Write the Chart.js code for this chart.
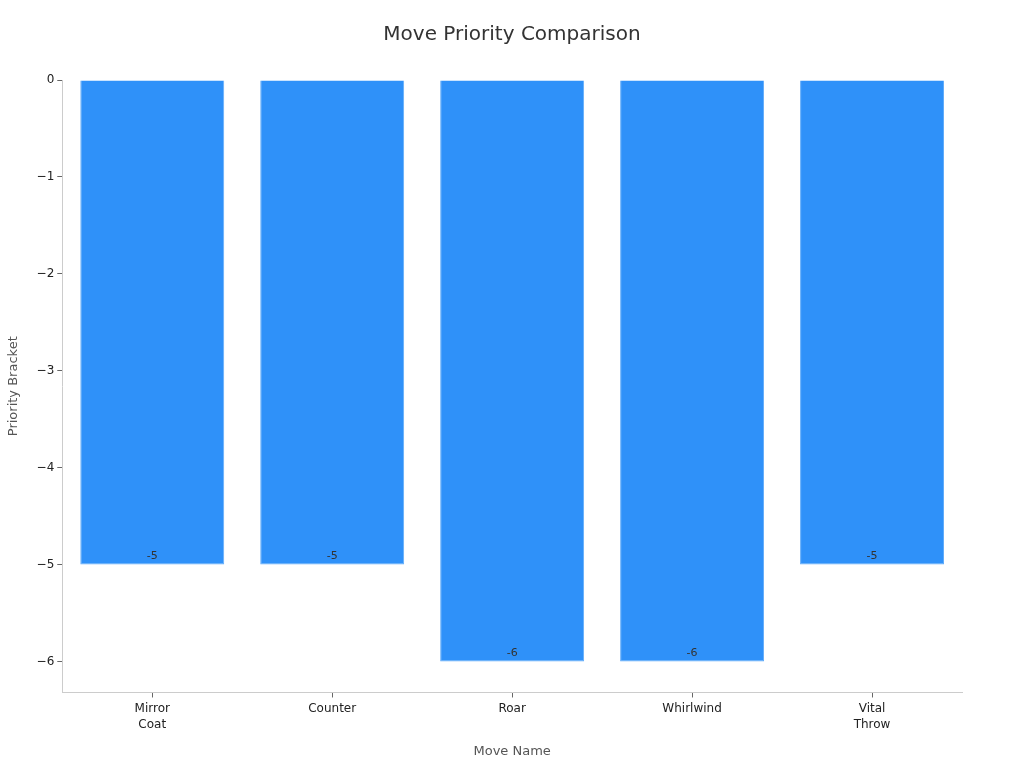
<!DOCTYPE html>
<html>
<head>
    <title>Move Priority Comparison</title>
    <script src="https://cdn.jsdelivr.net/npm/chart.js"></script>
    <style>
        body { margin: 0; background: #fff; }
        #wrap { width: 1024px; height: 768px; }
    </style>
</head>
<body>
    <div id="wrap"><canvas id="myChart"></canvas></div>
    <script>
        // data
        const chartTitle = 'Move Priority Comparison';
        const moves = [['Mirror', 'Coat'], 'Counter', 'Roar', 'Whirlwind', ['Vital', 'Throw']];
        const priorities = [-5, -5, -6, -6, -5];
        const yTicks = [0, -1, -2, -3, -4, -5, -6];

        // title centered on the whole canvas + value labels at bar ends
        const extras = {
            id: 'extras',
            afterDatasetsDraw(chart) {
                const ctx = chart.ctx;
                const meta = chart.getDatasetMeta(0);
                ctx.save();
                ctx.font = '11px "DejaVu Sans"';
                ctx.fillStyle = '#333';
                ctx.textAlign = 'center';
                ctx.textBaseline = 'bottom';
                meta.data.forEach((bar, i) => {
                    ctx.fillText(String(priorities[i]), bar.x, bar.y - 3);
                });
                ctx.font = '20px "DejaVu Sans"';
                ctx.textBaseline = 'middle';
                ctx.fillText(chartTitle, chart.width / 2, 35);
                ctx.restore();
            }
        };

        const tickFont = { family: 'DejaVu Sans', size: 12, lineHeight: 1.33 };

        const config = {
            type: 'bar',
            data: {
                labels: moves,
                datasets: [{
                    label: 'Priority Bracket',
                    data: priorities,
                    backgroundColor: '#2f91f9',
                    borderColor: '#62acfa',
                    borderWidth: 1,
                    barPercentage: 0.8,
                    categoryPercentage: 1.0
                }]
            },
            options: {
                responsive: true,
                maintainAspectRatio: false,
                animation: false,
                layout: { padding: { left: 2, right: 62, top: 80, bottom: 5 } },
                plugins: {
                    legend: { display: false },
                    tooltip: { enabled: false },
                    title: { display: false }
                },
                scales: {
                    x: {
                        offset: true,
                        grid: { display: true, offset: false, drawOnChartArea: false, tickLength: 5, color: '#666' },
                        border: { color: '#ccc' },
                        ticks: { color: '#222', font: tickFont, padding: 3, maxRotation: 0 },
                        title: {
                            display: true, text: 'Move Name', color: '#555',
                            font: { family: 'DejaVu Sans', size: 13 }, padding: { top: 8 }
                        }
                    },
                    y: {
                        min: -6.32,
                        max: 0,
                        afterBuildTicks: (axis) => { axis.ticks = yTicks.map(v => ({ value: v })); },
                        grid: { display: true, drawOnChartArea: false, tickLength: 5, color: '#666' },
                        border: { color: '#ccc' },
                        ticks: {
                            color: '#222',
                            font: tickFont,
                            padding: 3,
                            callback: (v) => v < 0 ? '\u2212' + Math.abs(v) : String(v)
                        },
                        title: {
                            display: true, text: 'Priority Bracket', color: '#555',
                            font: { family: 'DejaVu Sans', size: 13 }, padding: { bottom: 12 }
                        }
                    }
                }
            },
            plugins: [extras]
        };

        const myChart = new Chart(document.getElementById('myChart'), config);
    </script>
</body>
</html>
